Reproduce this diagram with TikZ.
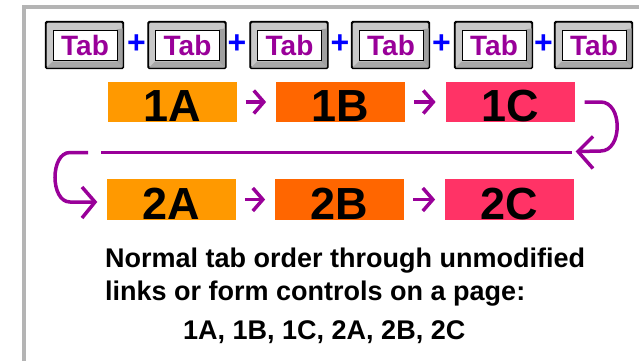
\documentclass[tikz,border=0pt]{standalone}
\usepackage{fontspec}
\setmainfont{Liberation Sans}
\usetikzlibrary{calc}
\definecolor{tabpurple}{HTML}{990099}
\definecolor{plusblue}{HTML}{0000FF}
\definecolor{boxA}{HTML}{FF9900}
\definecolor{boxB}{HTML}{FF6600}
\definecolor{boxC}{HTML}{FF3366}
\definecolor{framegray}{HTML}{B4B4B4}
\definecolor{keygray}{HTML}{C8C8C8}
\definecolor{keydark}{HTML}{A0A0A0}
\tikzset{
  keybox/.style={draw=black, line width=1.2pt, fill=keygray, rounded corners=1.5pt,
    minimum width=77pt, minimum height=46pt, inner sep=0pt},
  keyface/.style={draw=black, line width=1pt, fill=white, minimum width=64pt,
    minimum height=30pt, inner sep=0pt, text=tabpurple,
    font=\fontsize{28}{28}\selectfont\bfseries},
  plussign/.style={text=plusblue, inner sep=0pt, font=\fontsize{32}{32}\selectfont\bfseries},
  orderbox/.style={minimum width=129pt, inner sep=0pt},
  boxlabel/.style={anchor=base, inner sep=0pt, font=\fontsize{45}{45}\selectfont\bfseries},
  caption/.style={anchor=base west, inner sep=0pt, font=\fontsize{27}{27}\selectfont\bfseries},
  flowline/.style={draw=tabpurple, line width=3.5pt},
  chevron/.style={draw=tabpurple, line width=3.5pt, line join=miter},
}
\begin{document}
\begin{tikzpicture}[x=1pt,y=-1pt]
\useasboundingbox (0,0) rectangle (639,360);
\fill[white] (0,0) rectangle (639,360);
% outer frame
\draw[framegray, line width=4pt] (24,365) -- (24,7) -- (645,7);

% Tab keys
\foreach \i/\x in {1/84.5, 2/187, 3/289, 4/390.5, 5/493.5, 6/593.5}{
  \node[keybox] (key\i) at (\x,45) {};
  \fill[keydark] ($(key\i.north east)+(-1pt,-7pt)$) -- ($(key\i.south east)+(-1pt,1pt)$)
     -- ($(key\i.south east)+(-7pt,7pt)$) -- ($(key\i.north east)+(-7pt,-8pt)$) -- cycle;
  \fill[keydark!80!keygray] ($(key\i.south west)+(7pt,7pt)$) -- ($(key\i.south east)+(-7pt,7pt)$)
     -- ($(key\i.south east)+(-1pt,1pt)$) -- ($(key\i.south west)+(1pt,1pt)$) -- cycle;
  \draw[black, line width=1.2pt, rounded corners=1.5pt] (key\i.north west) rectangle (key\i.south east);
  \node[keyface] (face\i) at (\x+0.5,45) {Tab};
}
\foreach \i/\x in {1/136.5, 2/237, 3/340, 4/441.5, 5/543.5}{
  \node[plussign] (plus\i) at (\x,44) {+};
}

% order boxes
\node[orderbox, fill=boxA, minimum height=40pt] (b1A) at (172,102) {};
\node[orderbox, fill=boxB, minimum height=40pt] (b1B) at (340.5,102) {};
\node[orderbox, fill=boxC, minimum height=40pt] (b1C) at (510,102) {};
\node[orderbox, fill=boxA, minimum height=41pt] (b2A) at (171.5,199.5) {};
\node[orderbox, fill=boxB, minimum height=41pt] (b2B) at (339.5,199.5) {};
\node[orderbox, fill=boxC, minimum height=41pt] (b2C) at (509.5,199.5) {};
\foreach \n in {1A,1B,1C,2A,2B,2C}{
  \node[boxlabel] (l\n) at ([yshift=1pt]b\n.south) {\n};
}

% arrows between boxes
\foreach \a/\b in {1A/1B, 1B/1C, 2A/2B, 2B/2C}{
  \coordinate (tip\a) at ([xshift=-12pt]b\b.west);
  \draw[flowline] ([xshift=9pt]b\a.east) -- (tip\a);
  \draw[chevron] ($(tip\a)+(-10,-11.5)$) -- (tip\a) -- ($(tip\a)+(-10,11.5)$);
}

% return path
\coordinate (rstart) at ([xshift=10pt]b1C.east);
\coordinate (rtip) at (578,151.5);
\coordinate (mlL) at (101,152.5);
\coordinate (mlR) at (572,152.5);
\coordinate (lstart) at (88,152.5);
\coordinate (ltip) at (95,202);
\draw[flowline] (rstart) -- ++(16,0) .. controls +(22,0) and +(22,0) .. ++(0,49) -- (rtip);
\draw[chevron] ($(rtip)+(15,-15)$) -- (rtip) -- ($(rtip)+(15,17)$);
\draw[flowline] (mlL) -- (mlR);
\draw[flowline] (lstart) -- (70,152.5) .. controls (50,152.5) and (50,202) .. (70,202) -- (ltip);
\draw[chevron] ($(ltip)+(-13,-15)$) -- (ltip) -- ($(ltip)+(-13,16)$);

% caption
\node[caption] (t1) at (105,267) {Normal tab order through unmodified};
\node[caption] (t2) at (105,300) {links or form controls on a page:};
\node[caption] (t3) at (183,339) {1A, 1B, 1C, 2A, 2B, 2C};
\end{tikzpicture}
\end{document}
